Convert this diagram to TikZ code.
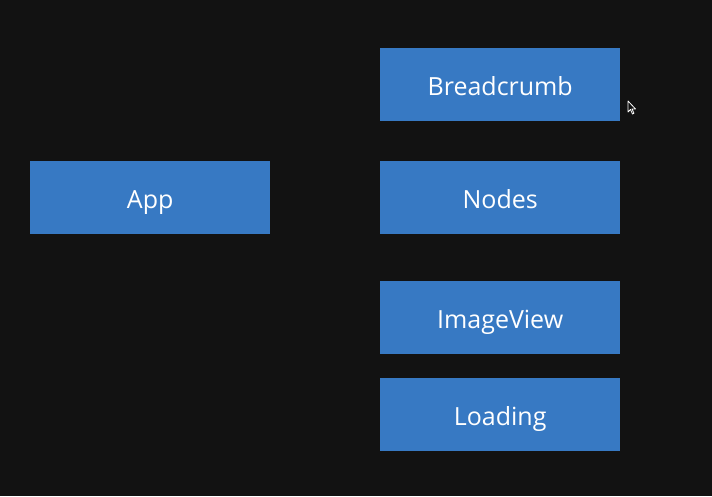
\documentclass[tikz,border=0pt]{standalone}
\usepackage{fontspec}
\setmainfont{Open Sans}
\definecolor{bg}{HTML}{121212}
\definecolor{boxblue}{HTML}{3779C3}
\begin{document}
\begin{tikzpicture}[x=1pt,y=-1pt,
  comp/.style={fill=boxblue, draw=none, minimum width=240pt, minimum height=73pt,
    inner sep=0pt, text height=21pt, text depth=0pt, text=white,
    font=\fontsize{25}{30}\selectfont, anchor=north west}]
\fill[bg] (0,0) rectangle (712,496);
\useasboundingbox (0,0) rectangle (712,496);
\node[comp] (app) at (30,161) {App};
\node[comp] (breadcrumb) at (380,48) {Breadcrumb};
\node[comp] (nodes) at (380,161) {Nodes};
\node[comp] (imageview) at (380,281) {ImageView};
\node[comp] (loading) at (380,378) {Loading};
% mouse pointer
\draw[white, fill=bg, line width=0.8pt, line join=round]
  (628,101) -- (628,112) -- (630.5,109.5) -- (632.5,114) -- (634,113.3) -- (632,109) -- (635.5,109) -- cycle;
\end{tikzpicture}
\end{document}
